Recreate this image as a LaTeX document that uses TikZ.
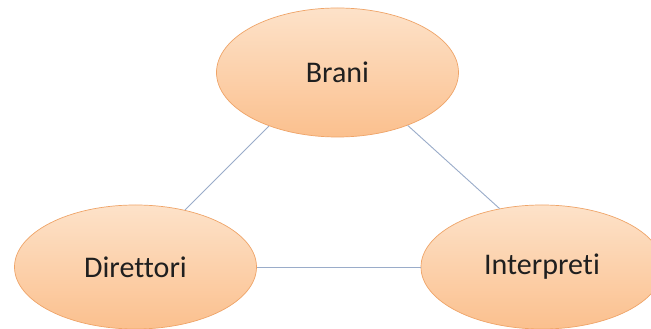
\documentclass[tikz,border=0pt]{standalone}
\usepackage{fontspec}
\setmainfont{Carlito}[Ligatures={NoCommon,NoContextual}]
\usetikzlibrary{shapes.geometric}
\definecolor{peachtop}{HTML}{FDE2C9}
\definecolor{peachbot}{HTML}{FBC08E}
\definecolor{peachrim}{HTML}{EFA468}
\definecolor{linkblue}{HTML}{9AACC9}
\tikzset{
  entity/.style={ellipse,draw=peachrim,line width=0.7pt,top color=peachtop,bottom color=peachbot,
    minimum width=242pt,minimum height=126pt,inner sep=0pt,text=black!88,
    font=\fontsize{30}{36}\selectfont},
  link/.style={draw=linkblue,line width=0.9pt}
}
\begin{document}
\begin{tikzpicture}[x=1pt,y=1pt]
            \clip (0,0) rectangle (651,329);
            \fill[white] (0,0) rectangle (651,329);
            \node[entity,minimum height=129pt] (brani) at (337.5,256.5) {Brani};
            \node[entity,minimum height=124pt] (direttori) at (135.5,62) {Direttori};
            \node[entity,minimum height=124pt] (interpreti) at (542,62) {Interpreti};
            \draw[link] (brani.218)--(direttori.49);
            \draw[link] (brani.323)--(interpreti.126);
            \draw[link] (direttori.east)--(interpreti.west);
        \end{tikzpicture}
\end{document}
